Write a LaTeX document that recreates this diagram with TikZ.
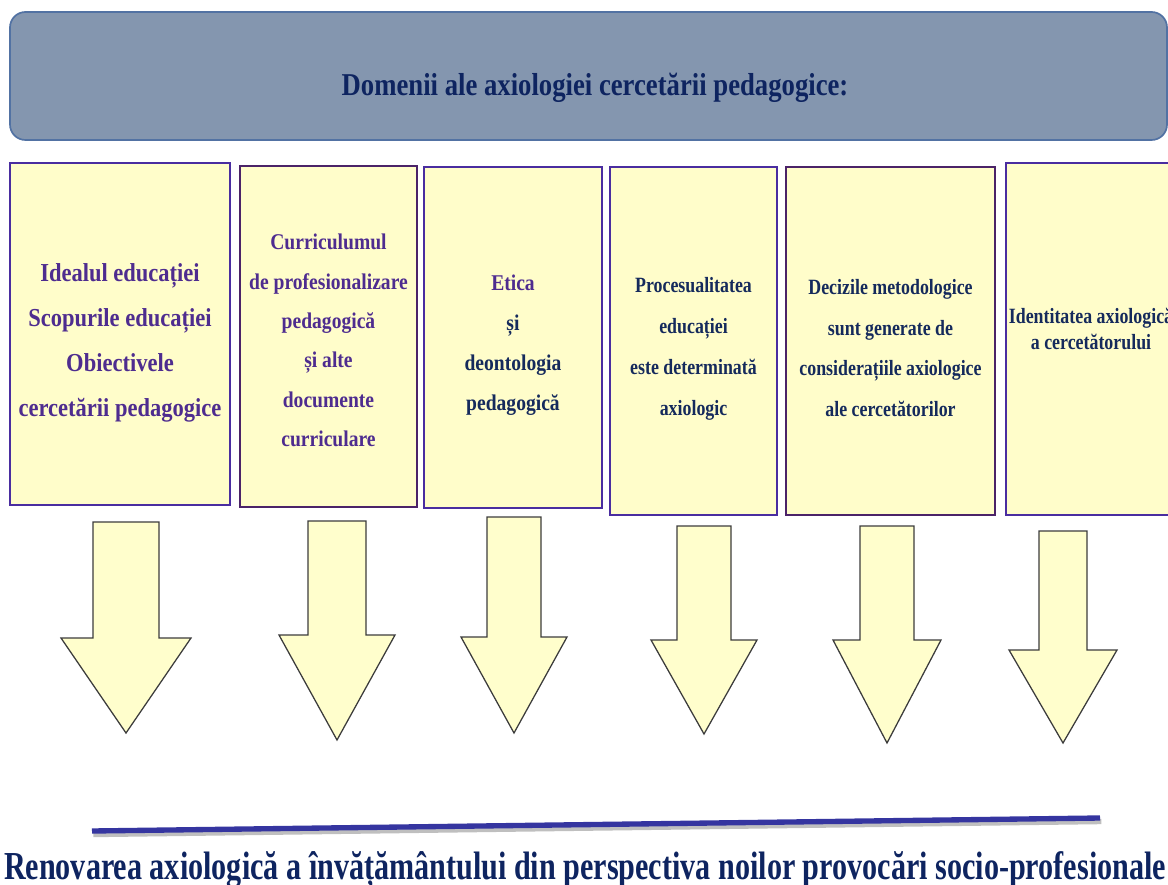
\documentclass[tikz,border=0pt]{standalone}
\usepackage{fontspec}
\setmainfont{Liberation Serif}
\newfontfamily\boxfont[FakeStretch=0.87]{Liberation Serif}
\newfontfamily\narrowfont[FakeStretch=0.82]{Liberation Serif}
\newfontfamily\headfont[FakeStretch=0.84]{Liberation Serif}
\newfontfamily\footfont[FakeStretch=0.76]{Liberation Serif}
\newcommand{\px}{0.025cm}
\definecolor{bannerfill}{HTML}{8496AF}
\definecolor{bannerdraw}{HTML}{5272A3}
\definecolor{headcol}{HTML}{0E2460}
\definecolor{boxfill}{HTML}{FFFDCA}
\definecolor{boxindigo}{HTML}{4A2DA0}
\definecolor{boxplum}{HTML}{4B2368}
\definecolor{txtpurple}{HTML}{4E2C8F}
\definecolor{txtnavy}{HTML}{152A5C}
\definecolor{arrowfill}{HTML}{FFFECC}
\definecolor{arrowdraw}{HTML}{3C3C3C}
\definecolor{rulecol}{HTML}{3535A0}
\begin{document}
\begin{tikzpicture}[x=\px, y=-\px,
    banner/.style={draw=bannerdraw, fill=bannerfill, line width=1.2pt, rounded corners=11pt},
    ybox/.style={fill=boxfill, line width=1.8pt, inner sep=0pt},
    boxtxt/.style={text=txtnavy, align=center, inner sep=0pt},
    blockarrow/.style={draw=arrowdraw, fill=arrowfill, line width=0.9pt, line join=miter}]
    \useasboundingbox (0,0) rectangle (1168,885);
    \node[banner, minimum width=1157*\px, minimum height=128*\px] (head) at (588.5,76) {};
    \node[text=headcol, font={\headfont\bfseries\fontsize{22.6}{26}\selectfont}, anchor=base] (title) at (595,96)
        {Domenii ale axiologiei cercetării pedagogice:};

    \foreach \n/\cx/\cy/\w/\h/\col in {1/120/334/220/342/boxindigo, 2/328.5/336.5/177/341/boxplum,
        3/513/337.5/178/341/boxindigo, 4/693.5/341/167/348/boxindigo,
        5/890.5/341/209/348/boxplum, 6/1091/339/170/352/boxindigo}
    {
        \node[ybox, draw=\col, minimum width=\w*\px, minimum height=\h*\px] (b\n) at (\cx,\cy) {};
    }

    \node[boxtxt, text=txtpurple, font={\boxfont\bfseries\fontsize{18.4}{32}\selectfont}] (t1) at (120,343)
        {Idealul educației\\ Scopurile educației\\ Obiectivele\\ cercetării pedagogice};
    \node[boxtxt, text=txtpurple, font={\boxfont\bfseries\fontsize{16}{28}\selectfont}] (t2) at (328.5,340.5)
        {Curriculumul\\ de profesionalizare\\ pedagogică\\ și alte\\ documente\\ curriculare};
    \node[boxtxt, font={\boxfont\bfseries\fontsize{16}{28.4}\selectfont}] (t3) at (513,345.5)
        {\textcolor{txtpurple}{Etica}\\ și\\ deontologia\\ pedagogică};
    \node[boxtxt, font={\narrowfont\bfseries\fontsize{15.5}{29}\selectfont}] (t4) at (693.5,349)
        {Procesualitatea\\ educației\\ este determinată\\ axiologic};
    \node[boxtxt, font={\narrowfont\bfseries\fontsize{15.5}{29}\selectfont}] (t5) at (890.5,348)
        {Decizile metodologice\\ sunt generate de\\ considerațiile axiologice\\ ale cercetătorilor};
    \node[boxtxt, font={\narrowfont\bfseries\fontsize{15.5}{19}\selectfont}] (t6) at (1091,329)
        {Identitatea axiologică\\ a cercetătorului};

    \foreach \cx/\ty/\sw/\hy/\hw/\tipy in {126/522/33/638/65/733, 337/521/29/635/58/740,
        514/517/27/637/53/733, 704/526/27/640/53/734, 887/526/27/640/54/743, 1063/531/24/650/54/743}
    {
        \draw[blockarrow] (\cx-\sw,\ty)--(\cx+\sw,\ty)--(\cx+\sw,\hy)--(\cx+\hw,\hy)
            --(\cx,\tipy)--(\cx-\hw,\hy)--(\cx-\sw,\hy)--cycle;
    }

    \coordinate (rs) at (92,831);
    \coordinate (re) at (1100,818);
    \draw[black!25, line width=3.8pt, transform canvas={shift={(1pt,-2.5pt)}}] (rs)--(re);
    \draw[rulecol, line width=3.8pt] (rs)--(re);
    \node[text=headcol, font={\footfont\bfseries\fontsize{28.2}{33}\selectfont}, anchor=base] (concl) at (585,879)
        {Renovarea axiologică a învățământului din perspectiva noilor provocări socio-profesionale};
\end{tikzpicture}
\end{document}
